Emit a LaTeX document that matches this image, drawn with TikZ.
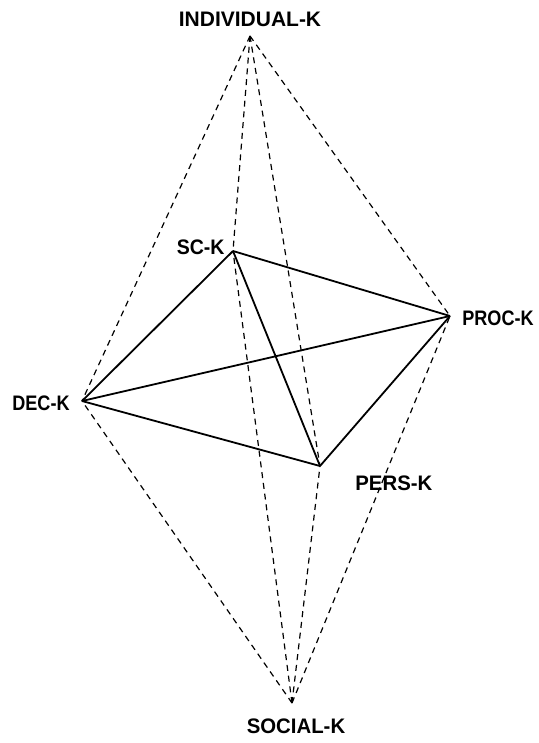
\documentclass[tikz,border=0pt]{standalone}
\usepackage{fontspec}
\setmainfont{Liberation Sans}
\usetikzlibrary{positioning}

\begin{document}
\begin{tikzpicture}[x=0.5pt, y=-0.5pt]
	% Define styles
	\tikzset{
		tag/.style={inner sep=0pt, font=\fontsize{10.5}{12}\selectfont\bfseries},
		edge/.style={draw, line width=0.9pt, line join=miter},
		axis/.style={draw, line width=0.6pt, dash pattern=on 3pt off 2.4pt}
	}
	\useasboundingbox (0,0) rectangle (538,743);
	
	% Vertices
	\coordinate (ind) at (250,36);
	\coordinate (sc) at (233,251);
	\coordinate (proc) at (450,316);
	\coordinate (dec) at (82,401);
	\coordinate (pers) at (320,466);
	\coordinate (soc) at (292,703);
	
	% Nodes
	\node[tag, above=4.5pt of ind] (indk) {INDIVIDUAL-K};
	\node[tag, left=4pt of sc, yshift=2pt] (sck) {\scalebox{0.93}[1]{SC-K}};
	\node[tag, right=6pt of proc, yshift=-1.2pt] (prock) {\scalebox{0.86}[1]{PROC-K}};
	\node[tag, left=6pt of dec, yshift=-1pt] (deck) {\scalebox{0.86}[1]{DEC-K}};
	\node[tag, below right=4.5pt and 17.5pt of pers] (persk) {\scalebox{0.97}[1]{PERS-K}};
	\node[tag, below=7.5pt of soc, xshift=2pt] (sock) {\scalebox{0.97}[1]{SOCIAL-K}};
	
	% Dashed lines
	\draw[axis] (ind) -- (dec);
	\draw[axis] (ind) -- (sc);
	\draw[axis] (ind) -- (pers);
	\draw[axis] (ind) -- (proc);
	
	\draw[axis] (soc) -- (dec);
	\draw[axis] (soc) -- (sc);
	\draw[axis] (soc) -- (pers);
	\draw[axis] (soc) -- (proc);
	
	% Solid lines
	\draw[edge] (sc) -- (proc);
	\draw[edge] (sc) -- (dec);
	\draw[edge] (sc) -- (pers);
	\draw[edge] (dec) -- (proc);
	\draw[edge] (dec) -- (pers);
	\draw[edge] (pers) -- (proc);
	
\end{tikzpicture}
\end{document}
